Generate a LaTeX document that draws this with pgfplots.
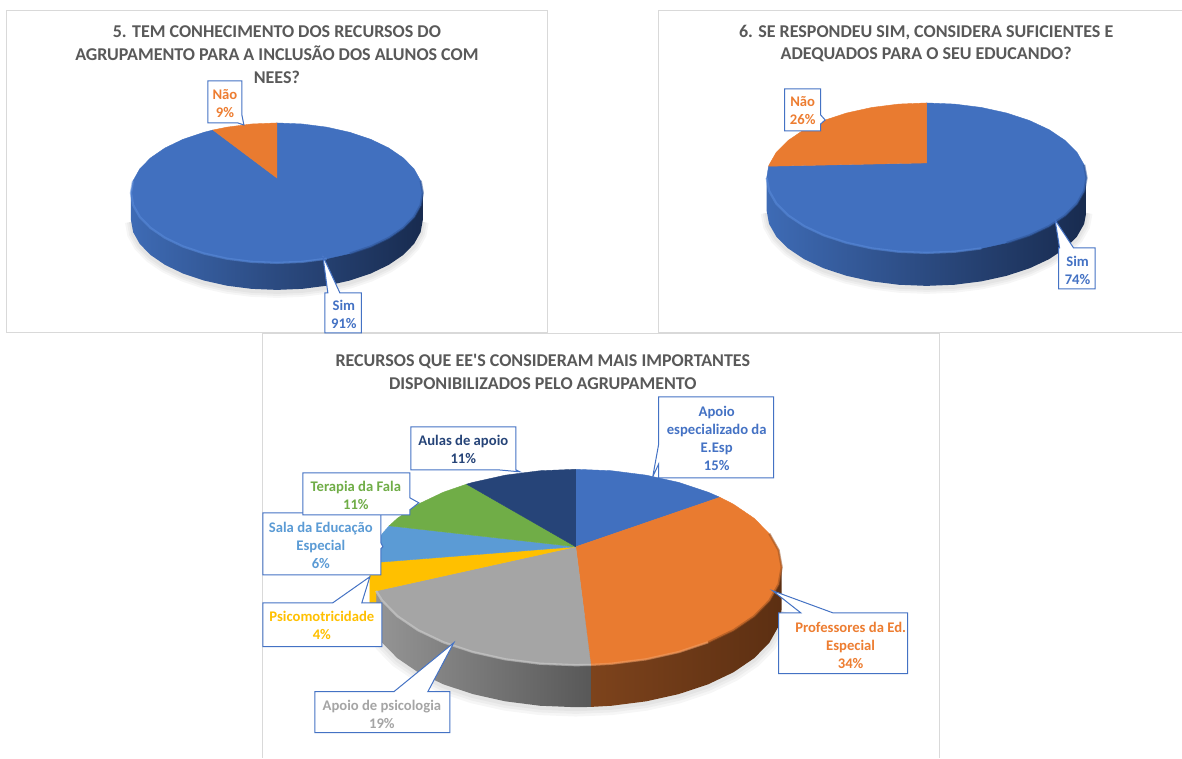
\documentclass[border=0pt]{standalone}
\usepackage{fontspec}
\setmainfont{Carlito}[Ligatures=TeXOff]
\usepackage{pgfplots}
\pgfplotsset{compat=1.18}
\usepackage{pgfplotstable}
\definecolor{cblue}{HTML}{4472C4}
\definecolor{fblue}{HTML}{4170BF}
\definecolor{corange}{HTML}{ED7D31}
\definecolor{forange}{HTML}{E97B30}
\definecolor{cgray}{HTML}{A5A5A5}
\definecolor{cyel}{HTML}{FFC000}
\definecolor{clb}{HTML}{5B9BD5}
\definecolor{cgreen}{HTML}{70AD47}
\definecolor{cnavy}{HTML}{264478}
\definecolor{ctitle}{HTML}{595959}
\definecolor{cpanel}{HTML}{D9D9D9}
\definecolor{shA}{HTML}{3E6BB5}
\definecolor{shB}{HTML}{182B4F}
\definecolor{shC}{HTML}{2B4A80}
\definecolor{rimD}{HTML}{2F5597}
\definecolor{rimL}{HTML}{5B8CDB}
\definecolor{brownL}{HTML}{7D431C}
\definecolor{brownR}{HTML}{5C2F12}
\definecolor{grayL}{HTML}{959595}
\definecolor{grayR}{HTML}{585858}
\definecolor{rimG}{HTML}{D2D2D2}
\definecolor{rimO}{HTML}{F2A26B}
\definecolor{rimB}{HTML}{9A5222}
\pgfplotstableread{
x y
1 -0.386
0.985 -0.560
0.940 -0.728
0.866 -0.886
0.766 -1.029
0.643 -1.152
0.5 -1.252
0.342 -1.326
0.174 -1.371
0 -1.386
-0.174 -1.371
-0.342 -1.326
-0.5 -1.252
-0.643 -1.152
-0.766 -1.029
-0.866 -0.886
-0.940 -0.728
-0.985 -0.560
-1 -0.386
}\sideA
\pgfplotstableread{
x y
1 -0.44
0.985 -0.614
0.940 -0.782
0.866 -0.94
0.766 -1.083
0.643 -1.206
0.5 -1.306
0.342 -1.38
0.174 -1.425
0 -1.44
-0.174 -1.425
-0.342 -1.38
-0.5 -1.306
-0.643 -1.206
-0.766 -1.083
-0.866 -0.94
-0.940 -0.782
-0.985 -0.614
-1 -0.44
}\sideB
\pgfplotstableread{
x y
1 -0.429
0.985 -0.603
0.940 -0.771
0.866 -0.929
0.766 -1.072
0.643 -1.195
0.5 -1.295
0.342 -1.369
0.174 -1.414
0 -1.429
-0.174 -1.414
-0.342 -1.369
-0.5 -1.295
-0.643 -1.195
-0.766 -1.072
-0.866 -0.929
-0.940 -0.771
-0.985 -0.603
-1 -0.429
}\sideC
\pgfplotsset{
 pix/.style={at={(0,0)},anchor=north west,scale only axis,width=886.5pt,height=568.5pt,
   xmin=0,xmax=1182,ymin=0,ymax=758,y dir=reverse,hide axis,clip=false,no markers},
 pie/.style={anchor=center,scale only axis,xmin=-1,xmax=1,ymin=-1,ymax=1,hide axis,clip=false,no markers},
 wedge/.style={fill=#1,draw=#1,line width=.3pt},
 box/.style={fill=white,draw=cblue,line width=.75pt},
 panel/.style={draw=cpanel,line width=.75pt},
 shadow/.style={draw=black,opacity=.035,line width=#1,yshift=-1.5pt},
 rim/.style={draw=#1,line width=1.7pt,opacity=.55},
}
\tikzset{
 lab/.style={align=center,font=\fontsize{11}{13.5}\selectfont\bfseries,text=#1,inner sep=0pt},
 ttl/.style={align=center,font=\fontsize{13.5}{17.25}\selectfont\bfseries,text=ctitle,inner sep=0pt},
}
\begin{document}
\begin{tikzpicture}
% background and panels
\begin{axis}[pix]
\addplot[fill=white,draw=none] coordinates {(0,0)(1182,0)(1182,758)(0,758)} -- cycle;
\addplot[panel] coordinates {(7,10)(547.5,10)(547.5,333)(7,333)} -- cycle;
\addplot[panel] coordinates {(1182,10)(658.5,10)(658.5,333)(1182,333)};
\addplot[panel] coordinates {(263,758)(263,334)(939.5,334)(939.5,758)};
\end{axis}
% pie 5
\begin{axis}[pie,at={(207.75pt,-144.75pt)},width=219pt,height=105pt]
\addplot[shadow=9pt] table {\sideA};
\addplot[shadow=6pt] table {\sideA};
\addplot[shadow=3pt] table {\sideA};
\addplot[left color=shA,right color=shB,middle color=shC,draw=none] coordinates {(1,0)(1,-0.386)(0.985,-0.560)(0.940,-0.728)(0.866,-0.886)(0.766,-1.029)(0.643,-1.152)(0.5,-1.252)(0.342,-1.326)(0.174,-1.371)(0,-1.386)(-0.174,-1.371)(-0.342,-1.326)(-0.5,-1.252)(-0.643,-1.152)(-0.766,-1.029)(-0.866,-0.886)(-0.940,-0.728)(-0.985,-0.560)(-1,-0.386)(-1,0)} -- cycle;
\addplot[wedge=fblue] coordinates {(0,0.214)(0,1)(0.174,0.985)(0.342,0.940)(0.5,0.866)(0.643,0.766)(0.766,0.643)(0.866,0.5)(0.940,0.342)(0.985,0.174)(1,0)(0.985,-0.174)(0.940,-0.342)(0.866,-0.5)(0.766,-0.643)(0.643,-0.766)(0.5,-0.866)(0.342,-0.940)(0.174,-0.985)(0,-1)(-0.174,-0.985)(-0.342,-0.940)(-0.5,-0.866)(-0.643,-0.766)(-0.766,-0.643)(-0.866,-0.5)(-0.940,-0.342)(-0.985,-0.174)(-1,0)(-0.985,0.174)(-0.940,0.342)(-0.866,0.5)(-0.766,0.643)(-0.643,0.766)(-0.5,0.866)(-0.438,0.899)} -- cycle;
\addplot[wedge=forange] coordinates {(0,0.214)(-0.438,0.899)(-0.342,0.940)(-0.174,0.985)(0,1)} -- cycle;
\addplot[rim=rimD] coordinates {(0.5,-0.866)(0.643,-0.766)(0.766,-0.643)(0.866,-0.5)(0.940,-0.342)(0.985,-0.174)(1,0)(0.985,0.174)};
\addplot[rim=rimL] coordinates {(-0.985,0.174)(-1,0)(-0.985,-0.174)(-0.940,-0.342)(-0.866,-0.5)(-0.766,-0.643)(-0.643,-0.766)(-0.5,-0.866)(-0.342,-0.940)(-0.174,-0.985)(0,-1)(0.174,-0.985)(0.342,-0.940)};
\end{axis}
% pie 6
\begin{axis}[pie,at={(695.25pt,-133.5pt)},width=240pt,height=112.5pt]
\addplot[shadow=9pt] table {\sideB};
\addplot[shadow=6pt] table {\sideB};
\addplot[shadow=3pt] table {\sideB};
\addplot[left color=shA,right color=shB,middle color=shC,draw=none] coordinates {(1,0)(1,-0.44)(0.985,-0.614)(0.940,-0.782)(0.866,-0.94)(0.766,-1.083)(0.643,-1.206)(0.5,-1.306)(0.342,-1.38)(0.174,-1.425)(0,-1.44)(-0.174,-1.425)(-0.342,-1.38)(-0.5,-1.306)(-0.643,-1.206)(-0.766,-1.083)(-0.866,-0.94)(-0.940,-0.782)(-0.985,-0.614)(-1,-0.44)(-1,0)} -- cycle;
\addplot[wedge=fblue] coordinates {(0,0.2)(0,1)(0.174,0.985)(0.342,0.940)(0.5,0.866)(0.643,0.766)(0.766,0.643)(0.866,0.5)(0.940,0.342)(0.985,0.174)(1,0)(0.985,-0.174)(0.940,-0.342)(0.866,-0.5)(0.766,-0.643)(0.643,-0.766)(0.5,-0.866)(0.342,-0.940)(0.174,-0.985)(0,-1)(-0.174,-0.985)(-0.342,-0.940)(-0.5,-0.866)(-0.643,-0.766)(-0.766,-0.643)(-0.866,-0.5)(-0.940,-0.342)(-0.985,-0.174)(-1,0)(-0.988,0.156)} -- cycle;
\addplot[wedge=forange] coordinates {(0,0.2)(-0.988,0.156)(-0.985,0.174)(-0.940,0.342)(-0.866,0.5)(-0.766,0.643)(-0.643,0.766)(-0.5,0.866)(-0.342,0.940)(-0.174,0.985)(0,1)} -- cycle;
\addplot[rim=rimD] coordinates {(0.5,-0.866)(0.643,-0.766)(0.766,-0.643)(0.866,-0.5)(0.940,-0.342)(0.985,-0.174)(1,0)(0.985,0.174)};
\addplot[rim=rimL] coordinates {(-1,0)(-0.985,-0.174)(-0.940,-0.342)(-0.866,-0.5)(-0.766,-0.643)(-0.643,-0.766)(-0.5,-0.866)(-0.342,-0.940)(-0.174,-0.985)(0,-1)(0.174,-0.985)(0.342,-0.940)};
\end{axis}
% pie recursos
\begin{axis}[pie,at={(432pt,-425.6pt)},width=309pt,height=147pt]
\addplot[shadow=11pt] table {\sideC};
\addplot[shadow=7pt] table {\sideC};
\addplot[shadow=3pt] table {\sideC};
\addplot[left color=brownL,right color=brownR,draw=none] coordinates {(1,0)(1,-0.429)(0.985,-0.603)(0.940,-0.771)(0.866,-0.929)(0.766,-1.072)(0.643,-1.195)(0.5,-1.295)(0.342,-1.369)(0.174,-1.414)(0.073,-1.426)(0.073,-0.5)} -- cycle;
\addplot[left color=grayL,right color=grayR,draw=none] coordinates {(0.073,-0.5)(0.073,-1.426)(0,-1.429)(-0.174,-1.414)(-0.342,-1.369)(-0.5,-1.295)(-0.643,-1.195)(-0.766,-1.072)(-0.866,-0.929)(-0.940,-0.771)(-0.970,-0.671)(-0.970,-0.242)} -- cycle;
\addplot[wedge=cyel] coordinates {(-0.970,-0.242)(-0.970,-0.671)(-0.985,-0.603)(-1,-0.429)(-1,0)} -- cycle;
\addplot[wedge=fblue] coordinates {(0,0.209)(0,1)(0.174,0.985)(0.342,0.940)(0.5,0.866)(0.643,0.766)(0.700,0.714)} -- cycle;
\addplot[wedge=forange] coordinates {(0,0.209)(0.700,0.714)(0.766,0.643)(0.866,0.5)(0.940,0.342)(0.985,0.174)(1,0)(0.985,-0.174)(0.940,-0.342)(0.866,-0.5)(0.766,-0.643)(0.643,-0.766)(0.5,-0.866)(0.342,-0.940)(0.174,-0.985)(0.073,-0.997)} -- cycle;
\addplot[wedge=cgray] coordinates {(0,0.209)(0.073,-0.997)(0,-1)(-0.174,-0.985)(-0.342,-0.940)(-0.5,-0.866)(-0.643,-0.766)(-0.766,-0.643)(-0.866,-0.5)(-0.940,-0.342)(-0.970,-0.242)} -- cycle;
\addplot[wedge=cyel] coordinates {(0,0.209)(-0.970,-0.242)(-0.985,-0.174)(-1,0)(-0.999,0.044)} -- cycle;
\addplot[wedge=clb] coordinates {(0,0.209)(-0.999,0.044)(-0.985,0.174)(-0.940,0.342)(-0.906,0.423)} -- cycle;
\addplot[wedge=cgreen] coordinates {(0,0.209)(-0.906,0.423)(-0.866,0.5)(-0.766,0.643)(-0.643,0.766)(-0.530,0.848)} -- cycle;
\addplot[wedge=cnavy] coordinates {(0,0.209)(-0.530,0.848)(-0.5,0.866)(-0.342,0.940)(-0.174,0.985)(0,1)} -- cycle;
\addplot[rim=rimG] coordinates {(0.073,-0.997)(0,-1)(-0.174,-0.985)(-0.342,-0.940)(-0.5,-0.866)(-0.643,-0.766)(-0.766,-0.643)(-0.866,-0.5)(-0.940,-0.342)(-0.970,-0.242)};
\addplot[rim=rimO] coordinates {(0.073,-0.997)(0.174,-0.985)(0.342,-0.940)(0.5,-0.866)(0.643,-0.766)};
\addplot[rim=rimB] coordinates {(0.643,-0.766)(0.766,-0.643)(0.866,-0.5)(0.940,-0.342)(0.985,-0.174)(1,0)(0.985,0.174)(0.940,0.342)};
\end{axis}
% callouts and text
\begin{axis}[pix]
\addplot[box] coordinates {(208,81)(242,81)(242,115)(244,125)(238,123)(208,123)} -- cycle;
\addplot[box] coordinates {(325,293)(328,293)(323,256)(340,293)(361.5,293)(361.5,333)(325,333)} -- cycle;
\addplot[box] coordinates {(785,89)(821,89)(821,115)(825.5,120)(821,124)(821,131)(785,131)} -- cycle;
\addplot[box] coordinates {(1059,248)(1060,248)(1055.5,220)(1074,248)(1095.5,248)(1095.5,289)(1059,289)} -- cycle;
\addplot[box] coordinates {(263,603)(333,603)(370,577)(362,603)(382,603)(382,647)(263,647)} -- cycle;
\addplot[box] coordinates {(263,513)(381,513)(381,543)(383,547)(381,549)(381,575)(263,575)} -- cycle;
\addplot[box] coordinates {(303,473)(410,473)(410,498)(419,503)(410,510)(410,515)(303,515)} -- cycle;
\addplot[box] coordinates {(411,427)(516,427)(516,470)(520,472)(498,470)(411,470)} -- cycle;
\addplot[box] coordinates {(659,397)(774,397)(774,478)(659,478)(659,464)(653,477)(659,444)} -- cycle;
\addplot[box] coordinates {(779,613)(801,613)(773,591)(833,613)(908,613)(908,674)(779,674)} -- cycle;
\addplot[box] coordinates {(315,692)(394,692)(454,643)(428,692)(450,692)(450,733)(315,733)} -- cycle;
\node[ttl] at (axis cs:277,55) {5. TEM CONHECIMENTO DOS RECURSOS DO\\AGRUPAMENTO PARA A INCLUSÃO DOS ALUNOS COM\\NEES?};
\node[ttl] at (axis cs:926.5,43.5) {6. SE RESPONDEU SIM, CONSIDERA SUFICIENTES E\\ADEQUADOS PARA O SEU EDUCANDO?};
\node[ttl] at (axis cs:543,372) {RECURSOS QUE EE'S CONSIDERAM MAIS IMPORTANTES\\DISPONIBILIZADOS PELO AGRUPAMENTO};
\node[lab=corange] at (axis cs:225,104) {Não\\9\%};
\node[lab=cblue] at (axis cs:344,315) {Sim\\91\%};
\node[lab=corange] at (axis cs:803,111) {Não\\26\%};
\node[lab=cblue] at (axis cs:1078,271) {Sim\\74\%};
\node[lab=cnavy] at (axis cs:463.5,450) {Aulas de apoio\\11\%};
\node[lab=cgreen] at (axis cs:356,496) {Terapia da Fala\\11\%};
\node[lab=clb] at (axis cs:321,546) {Sala da Educação\\Especial\\6\%};
\node[lab=cyel] at (axis cs:322,626) {Psicomotricidade\\4\%};
\node[lab=cgray] at (axis cs:382,715) {Apoio de psicologia\\19\%};
\node[lab=cblue] at (axis cs:717,439) {Apoio\\especializado da\\E.Esp\\15\%};
\node[lab=corange] at (axis cs:851,646) {Professores da Ed.\\Especial\\34\%};
\end{axis}
\end{tikzpicture}
\end{document}
